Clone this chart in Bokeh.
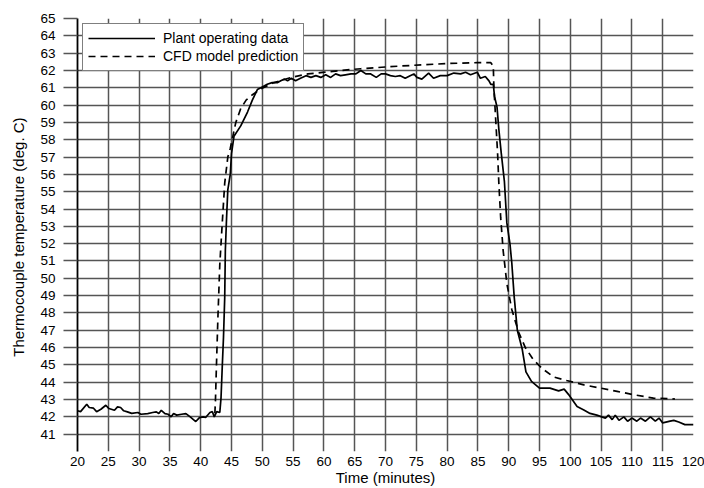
from bokeh.plotting import figure
from bokeh.models import Range1d, FixedTicker
from bokeh.embed import file_html
from bokeh.resources import INLINE

# Plant operating data (solid)
plant_t = [20.0, 20.5, 21.5, 21.9, 22.6, 23.1, 23.8, 24.6, 25.1, 26.0, 26.5, 27.0, 27.5, 28.1,
           28.8, 29.8, 30.3, 31.4, 32.2, 32.8, 33.2, 33.6, 34.2, 34.7, 35.2, 35.6, 36.1, 36.9,
           37.6, 38.3, 39.2, 39.8, 40.4, 40.8, 41.5, 41.9, 42.2, 42.6, 43.1, 43.3, 43.5, 43.7,
           43.9, 44.0, 44.2, 44.4, 44.8, 45.0, 45.4, 46.5, 47.6, 48.4, 49.2, 50.0, 50.8, 51.6,
           52.5, 53.0, 53.6, 54.1, 54.7, 55.4, 56.2, 57.1, 57.9, 58.7, 59.5, 60.3, 61.1, 61.9,
           62.7, 63.5, 64.4, 65.2, 66.0, 66.8, 67.6, 68.5, 69.3, 70.0, 70.8, 71.6, 72.4, 73.2,
           74.0, 74.6, 75.1, 75.9, 77.0, 77.8, 78.9, 80.0, 81.1, 82.2, 83.0, 83.8, 84.9, 85.4,
           86.2, 86.8, 87.1, 87.5, 87.7, 88.1, 88.4, 88.8, 89.3, 89.7, 90.2, 90.5, 90.9, 91.4,
           92.2, 92.8, 93.7, 95.0, 96.7, 98.1, 99.0, 99.7, 100.3, 101.1, 102.2, 103.2, 104.3,
           105.1, 105.7, 106.2, 106.8, 107.3, 107.9, 108.7, 109.3, 110.0, 110.8, 111.4, 112.2,
           113.0, 113.8, 114.4, 115.0, 116.2, 116.8, 117.6, 118.6, 120.0]
plant_temp = [42.35, 42.30, 42.73, 42.54, 42.50, 42.30, 42.44, 42.67, 42.48, 42.38, 42.58, 42.54,
              42.35, 42.29, 42.20, 42.25, 42.15, 42.19, 42.25, 42.29, 42.19, 42.38, 42.19, 42.15,
              42.00, 42.19, 42.10, 42.15, 42.19, 42.00, 41.73, 41.96, 42.00, 41.96, 42.25, 42.30,
              42.00, 42.30, 42.25, 43.10, 44.90, 46.60, 48.90, 51.60, 53.50, 55.10, 56.00, 57.20,
              58.20, 58.80, 59.60, 60.30, 60.90, 61.05, 61.20, 61.30, 61.30, 61.40, 61.50, 61.40,
              61.55, 61.40, 61.55, 61.70, 61.60, 61.70, 61.60, 61.75, 61.60, 61.80, 61.70, 61.75,
              61.80, 61.80, 62.00, 61.80, 61.80, 61.60, 61.80, 61.80, 61.70, 61.65, 61.70, 61.55,
              61.70, 61.80, 61.60, 61.50, 61.85, 61.55, 61.70, 61.70, 61.85, 61.80, 61.90, 61.75,
              61.90, 61.55, 61.65, 61.40, 61.20, 61.20, 60.50, 59.90, 58.60, 57.20, 55.60, 53.20,
              52.00, 50.90, 48.90, 47.00, 45.90, 44.60, 44.05, 43.66, 43.66, 43.50, 43.60, 43.30,
              43.00, 42.60, 42.40, 42.20, 42.10, 42.00, 41.93, 42.10, 41.84, 42.10, 41.80, 42.00,
              41.75, 41.93, 41.75, 41.93, 41.75, 42.00, 41.75, 41.93, 41.65, 41.75, 41.80, 41.70,
              41.55, 41.55]

# CFD model prediction (dashed)
cfd_t = [42.3, 42.4, 42.55, 42.8, 43.1, 43.5, 43.9, 44.4, 44.8, 45.7, 46.5, 47.4, 48.4, 49.8,
         51.9, 54.7, 57.4, 60.1, 62.7, 66.0, 70.0, 74.6, 80.0, 84.9, 87.1, 87.5, 87.6, 87.9,
         88.2, 88.4, 88.7, 89.1, 89.7, 90.5, 91.6, 92.7, 94.0, 95.4, 97.3, 99.4, 102.2, 104.9,
         107.6, 110.3, 113.5, 117.0]
cfd_temp = [42.2, 43.0, 44.9, 47.8, 50.8, 53.2, 55.5, 57.0, 57.5, 59.0, 59.8, 60.3, 60.6, 60.95,
            61.3, 61.6, 61.8, 61.9, 62.0, 62.1, 62.2, 62.3, 62.4, 62.45, 62.45, 62.25, 61.0, 59.1,
            57.2, 55.5, 53.5, 51.6, 49.7, 48.2, 46.9, 46.0, 45.3, 44.8, 44.3, 44.1, 43.85, 43.66,
            43.47, 43.28, 43.08, 43.03]

x_ticks = list(range(20, 121, 5))
y_ticks = list(range(41, 66))

FONT = "Liberation Sans"
GRID = "#555555"

p = figure(width=704, height=488, x_range=Range1d(20, 120), y_range=Range1d(40, 65),
           output_backend="svg", toolbar_location=None,
           min_border_left=77, min_border_right=11, min_border_top=18, min_border_bottom=36)
p.outline_line_color = None
p.background_fill_color = "white"
p.border_fill_color = "white"

p.line(plant_t, plant_temp, line_color="black", line_width=1.7, legend_label="Plant operating data")
p.line(cfd_t, cfd_temp, line_color="black", line_width=1.7, line_dash="7 5",
       legend_label="CFD model prediction")

# axes
p.xaxis.ticker = FixedTicker(ticks=x_ticks)
p.yaxis.ticker = FixedTicker(ticks=y_ticks)
p.xaxis.axis_label = "Time (minutes)"
p.yaxis.axis_label = "Thermocouple  temperature (deg. C)"
for ax in (p.xaxis, p.yaxis):
    ax.axis_label_text_font = FONT
    ax.axis_label_text_font_style = "normal"
    ax.axis_label_text_font_size = "15px"
    ax.axis_label_text_color = "black"
    ax.major_label_text_font = FONT
    ax.major_label_text_font_size = "13.5px"
    ax.major_label_text_color = "black"
    ax.minor_tick_line_color = None

p.xaxis.axis_line_color = None
p.xaxis.major_tick_line_color = None
p.xaxis.major_tick_out = 0
p.xaxis.major_tick_in = 0
p.xaxis.major_label_standoff = 5
p.xaxis.axis_label_standoff = 0

p.yaxis.axis_line_color = "black"
p.yaxis.axis_line_width = 1.8
p.yaxis.major_tick_line_color = GRID
p.yaxis.major_tick_line_width = 1.5
p.yaxis.major_tick_out = 14
p.yaxis.major_tick_in = 0
p.yaxis.major_label_standoff = 8
p.yaxis.axis_label_standoff = 10

p.xgrid.ticker = FixedTicker(ticks=x_ticks)
p.ygrid.ticker = FixedTicker(ticks=y_ticks)
for g in (p.xgrid, p.ygrid):
    g.grid_line_color = GRID
    g.grid_line_width = 1.5
    g.grid_line_alpha = 1.0

# legend
lg = p.legend[0]
lg.location = "top_left"
lg.margin = 5
lg.padding = 5
lg.spacing = 0
lg.glyph_width = 67
lg.glyph_height = 18
lg.label_height = 18
lg.label_standoff = 8
lg.label_text_font = FONT
lg.label_text_font_size = "14px"
lg.label_text_color = "black"
lg.border_line_color = "black"
lg.border_line_width = 1
lg.background_fill_color = "white"
lg.background_fill_alpha = 1.0

open("out.html", "w").write(file_html(p, INLINE))
